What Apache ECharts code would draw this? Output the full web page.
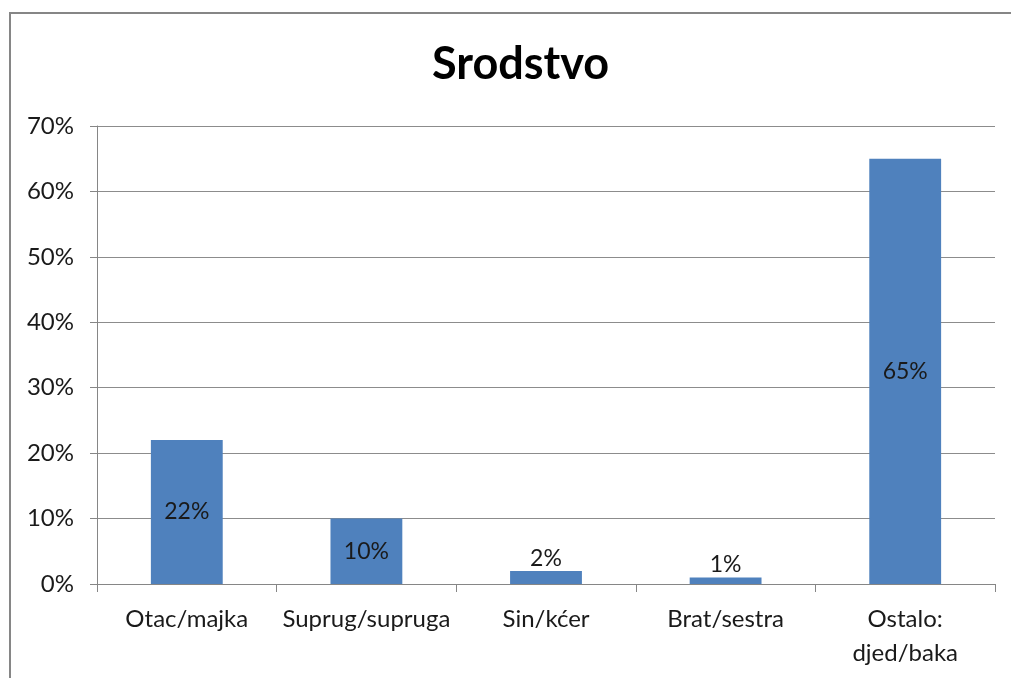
<!DOCTYPE html>
<html>
<head>
<meta charset="utf-8">
<script src="https://cdn.jsdelivr.net/npm/echarts@6/dist/echarts.min.js"></script>
<style>
  html, body { margin: 0; padding: 0; background: #fff; }
  #chart { width: 1011px; height: 678px; }
</style>
</head>
<body>
<div id="chart"></div>
<script>
// 数据
var categories = ['Otac/majka', 'Suprug/supruga', 'Sin/kćer', 'Brat/sestra', 'Ostalo:\ndjed/baka'];
var values = [22, 10, 2, 1, 65];
var yTicks = [0, 10, 20, 30, 40, 50, 60, 70];

(function () {
  var myChart = echarts.init(document.getElementById('chart'));
  var font = 'Lato, "Open Sans", sans-serif';
  var option = {
    animation: false,
    title: {
      text: 'Srodstvo',
      left: 427,
      top: 37,
      textStyle: {
        fontFamily: font,
        fontSize: 45,
        fontWeight: 'bold',
        color: '#000'
      }
    },
    // 外框
    graphic: [{
      type: 'rect',
      shape: { x: 10, y: 13, width: 1100, height: 800 },
      style: { fill: 'none', stroke: '#868686', lineWidth: 2 },
      silent: true
    }],
    grid: {
      left: 97,
      right: 16,
      top: 126,
      bottom: 94
    },
    xAxis: {
      type: 'category',
      data: categories,
      axisTick: { show: true, alignWithLabel: false, length: 8, lineStyle: { color: '#868686' } },
      axisLine: { lineStyle: { color: '#868686', width: 1 } },
      axisLabel: {
        color: '#1a1a1a',
        fontFamily: font,
        fontSize: 24,
        margin: 18,
        lineHeight: 34,
        interval: 0
      }
    },
    yAxis: {
      type: 'value',
      min: yTicks[0],
      max: yTicks[yTicks.length - 1],
      interval: 10,
      axisLine: { show: true, lineStyle: { color: '#868686' } },
      axisTick: { show: true, length: 7, lineStyle: { color: '#868686' } },
      axisLabel: {
        color: '#1a1a1a',
        fontFamily: font,
        fontSize: 24,
        margin: 23,
        formatter: '{value}%'
      },
      splitLine: { lineStyle: { color: '#8c8c8c', width: 1 } }
    },
    series: [{
      type: 'bar',
      barWidth: '40%',
      data: values.map(function (v) {
        // 小柱子的标签放在上方
        return { value: v, label: { position: v < 5 ? 'top' : 'inside' } };
      }),
      itemStyle: { color: '#4f81bd' },
      label: {
        show: true,
        formatter: '{c}%',
        color: '#1a1a1a',
        fontFamily: font,
        fontSize: 23,
        distance: 1
      }
    }]
  };
  myChart.setOption(option);
})();
</script>
</body>
</html>
